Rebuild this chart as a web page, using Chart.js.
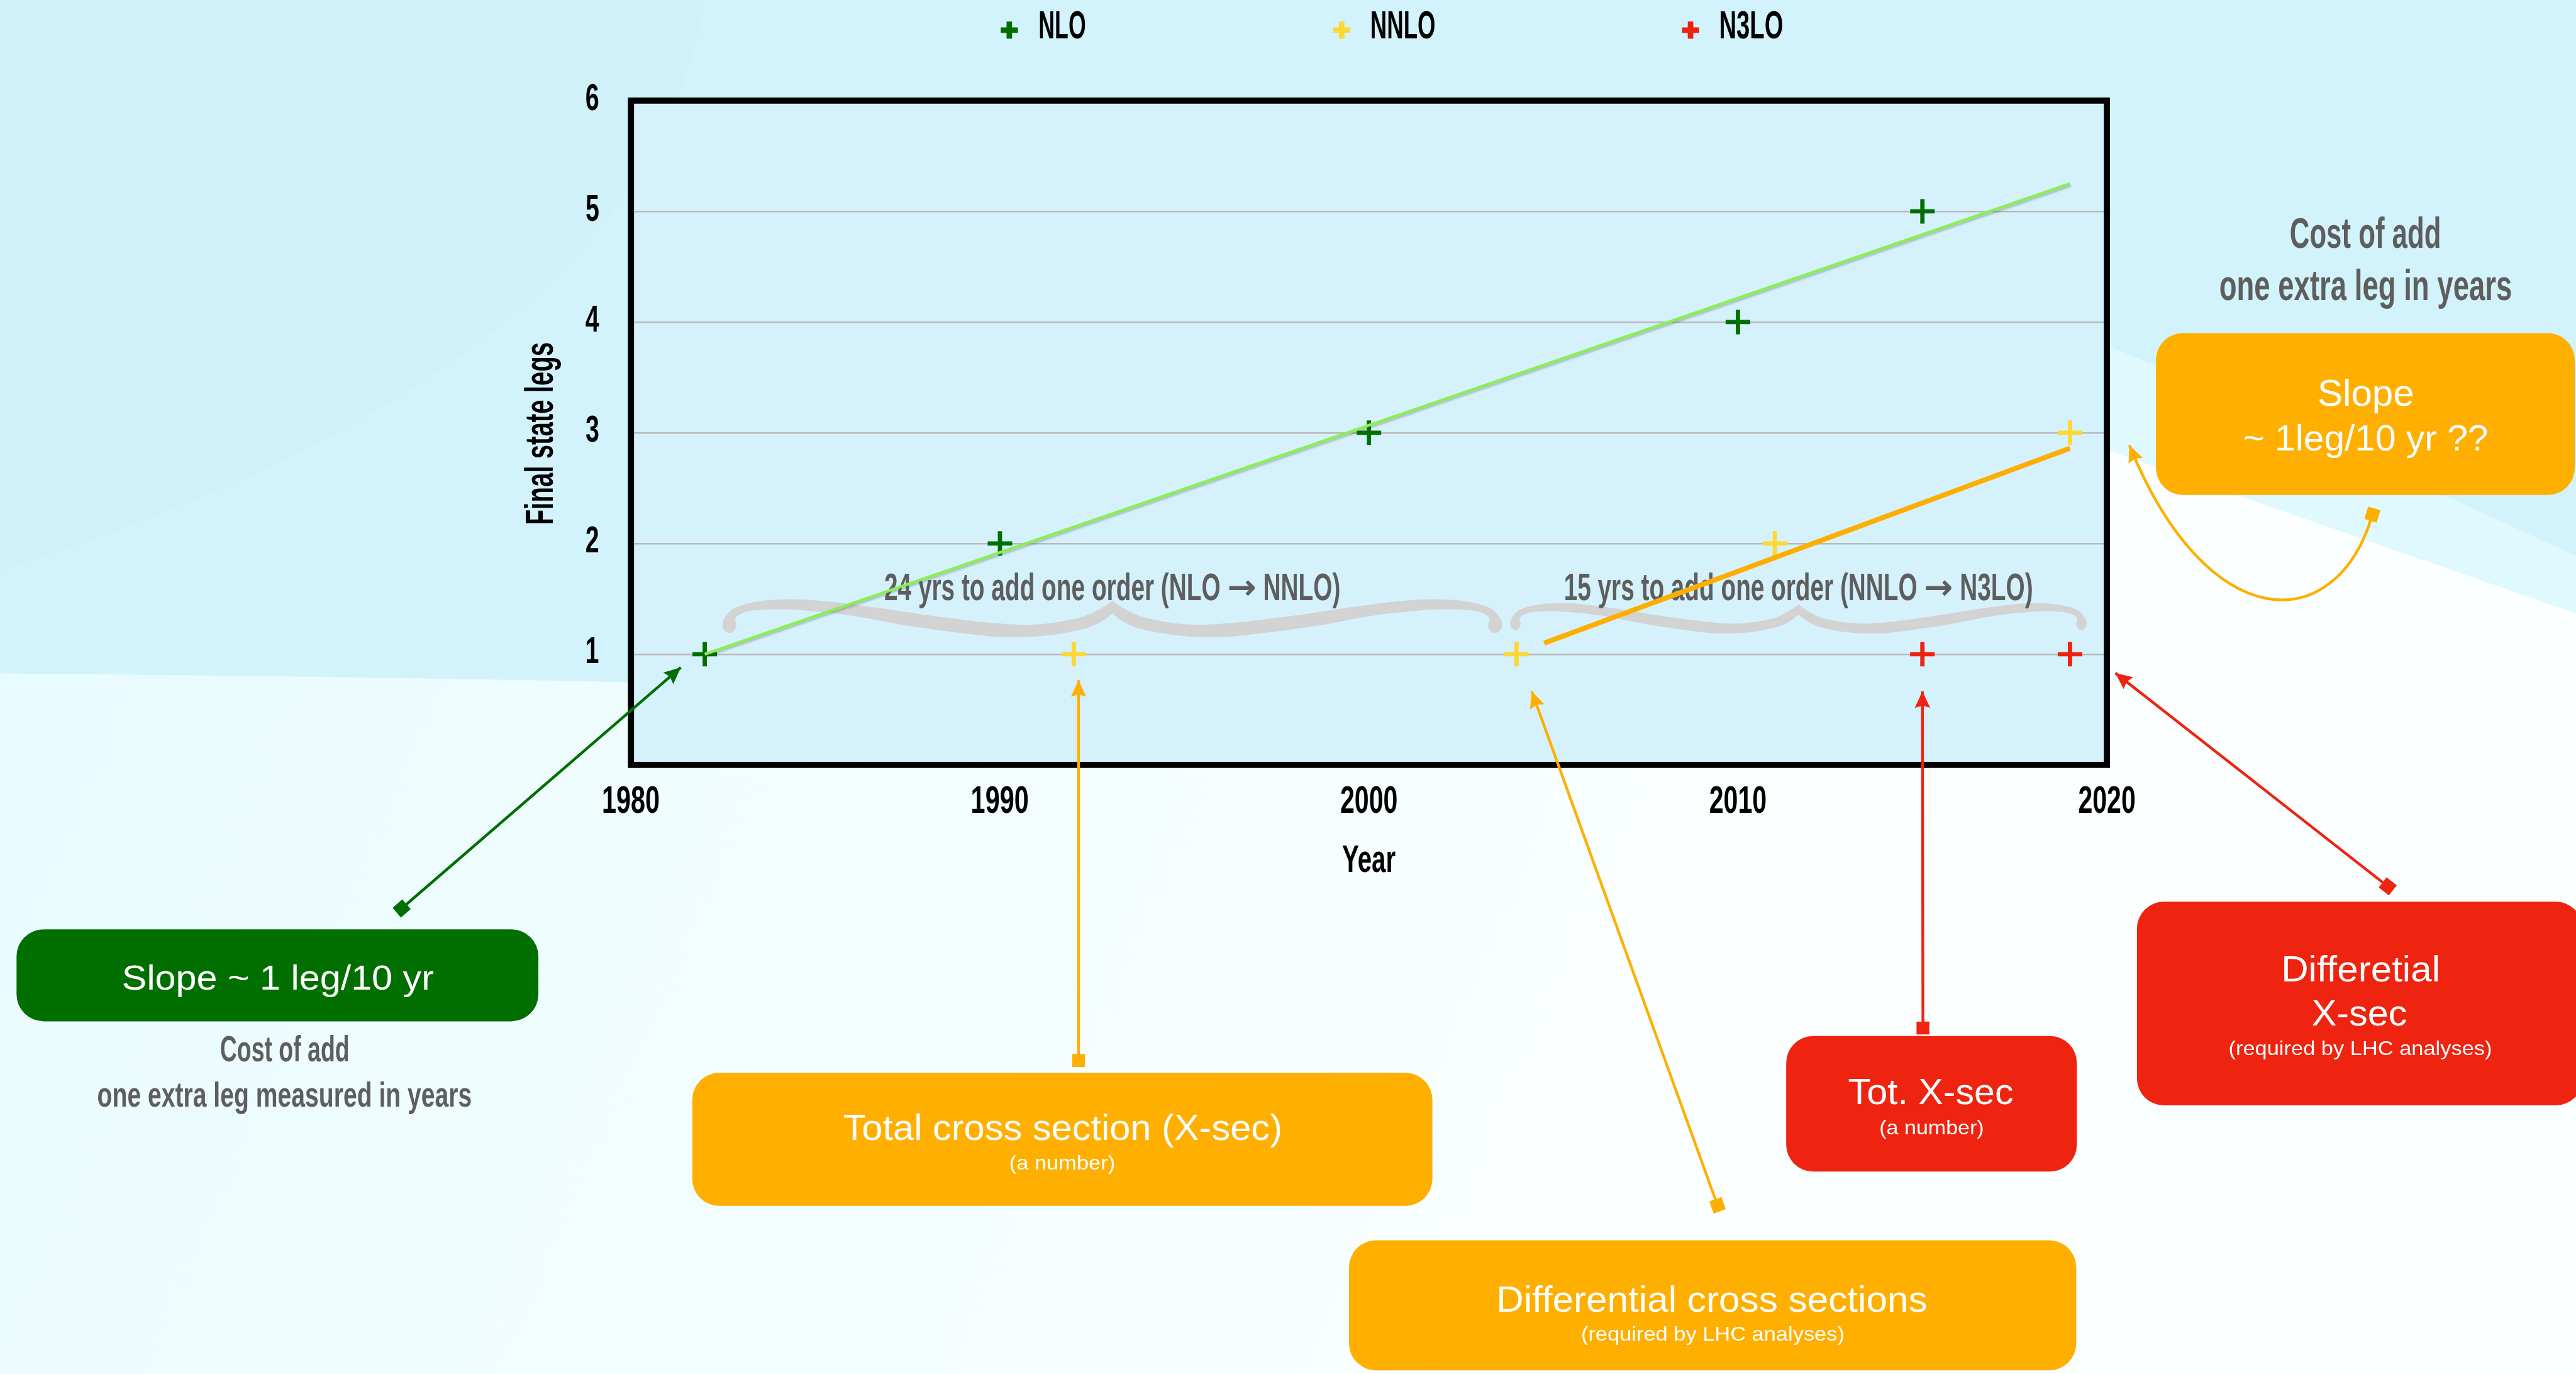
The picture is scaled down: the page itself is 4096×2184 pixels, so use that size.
<!DOCTYPE html>
<html>
<head>
<meta charset="utf-8">
<title>Final state legs vs year</title>
<script src="https://cdn.jsdelivr.net/npm/chart.js@4.4.1/dist/chart.umd.min.js"></script>
<style>
  html, body { margin: 0; padding: 0; overflow: hidden; background: #fff; }
  #wrap { position: relative; width: 4096px; height: 2184px; }
  canvas { display: block; }
</style>
</head>
<body>
<div id="wrap"><canvas id="chart" width="4096" height="2184"></canvas></div>
<script>
// ---- data ----
const seriesNames = ['NLO', 'NNLO', 'N3LO'];
const seriesColors = ['#006f00', '#fdd835', '#ee2211'];

const nloYears  = [1982, 1990, 2000, 2010, 2015];
const nloLegs   = [1, 2, 3, 4, 5];
const nnloYears = [1992, 2004, 2011, 2019];
const nnloLegs  = [1, 1, 2, 3];
const n3loYears = [2015, 2019];
const n3loLegs  = [1, 1];

// straight trend lines (end points)
const nloTrendYears  = [1982, 2019];
const nloTrendLegs   = [1.0, 5.25];
const nnloTrendYears = [2004.75, 2019];
const nnloTrendLegs  = [1.1, 2.86];

const xTickLabels = [1980, 1990, 2000, 2010, 2020];
const yTickLabels = [1, 2, 3, 4, 5, 6];

// ---- layout helpers ----
const S = 0.975;                 // drawing scale
const P = v => v * S;
const W = 4096, H = 2184;
const FONT = "'Liberation Sans', Arial, Helvetica, sans-serif";
const ARROW_FONT = "'DejaVu Sans', sans-serif";
const GREY = '#5e5e5e';
const ORANGE = '#feaf00';
const RED = '#ee2310';
const GREEN = '#006f00';

const toPts = (xs, ys) => xs.map((x, i) => ({ x, y: ys[i] }));

// text drawn with a given cap height, squeezed horizontally to a given ink width;
// a right arrow inside the text is set in a separate font and kept unsqueezed
function label(ctx, str, x, y, o) {
  const size = (o.cap / 0.716) * S;
  const weight = o.bold ? 'bold ' : '';
  const mainFont = weight + size.toFixed(2) + 'px ' + FONT;
  ctx.save();
  ctx.fillStyle = o.color || '#000';
  ctx.textBaseline = 'alphabetic';
  ctx.textAlign = 'left';

  if (str.indexOf('\u2192') >= 0) {
    const arrowFont = weight + (size * 0.9).toFixed(2) + 'px ' + ARROW_FONT;
    const parts = str.split('\u2192');
    const runs = [];
    parts.forEach((p, i) => {
      if (i > 0) runs.push({ t: '\u2192', f: arrowFont, squeeze: false });
      runs.push({ t: p, f: mainFont, squeeze: true });
    });
    let textW = 0, fixedW = 0;
    runs.forEach(r => {
      ctx.font = r.f;
      r.w = ctx.measureText(r.t).width;
      if (r.squeeze) textW += r.w; else fixedW += r.w;
    });
    const sx = (o.w * S - fixedW) / textW;
    const total = textW * sx + fixedW;
    let cur = x - total / 2;
    runs.forEach(r => {
      ctx.save();
      ctx.font = r.f;
      ctx.translate(cur, y);
      if (r.squeeze) ctx.scale(sx, 1);
      ctx.fillText(r.t, 0, r.squeeze ? 0 : -size * 0.02);
      ctx.restore();
      cur += r.squeeze ? r.w * sx : r.w;
    });
    ctx.restore();
    return;
  }

  ctx.font = mainFont;
  const m = ctx.measureText(str);
  const ink = m.actualBoundingBoxLeft + m.actualBoundingBoxRight;
  let sx = 1;
  if (o.w) sx = (o.w * S) / ink;
  else if (o.refText) {
    const r = ctx.measureText(o.refText);
    sx = (o.refW * S) / (r.actualBoundingBoxLeft + r.actualBoundingBoxRight);
  }
  ctx.translate(x, y);
  if (o.rot) ctx.rotate(o.rot);
  ctx.scale(sx, 1);
  let dx;
  if (o.align === 'left') dx = m.actualBoundingBoxLeft;
  else if (o.align === 'right') dx = -m.actualBoundingBoxRight;
  else dx = (m.actualBoundingBoxLeft - m.actualBoundingBoxRight) / 2;
  ctx.fillText(str, dx, 0);
  ctx.restore();
}

function drawCross(ctx, x, y, size, lw, color) {
  ctx.save();
  ctx.strokeStyle = color;
  ctx.lineWidth = lw;
  ctx.beginPath();
  ctx.moveTo(x - size / 2, y); ctx.lineTo(x + size / 2, y);
  ctx.moveTo(x, y - size / 2); ctx.lineTo(x, y + size / 2);
  ctx.stroke();
  ctx.restore();
}

// decorative curly brace, opening downwards, outline of the left half
const braceHalf = [
  [1.0, 0], [0.97, 13], [0.91, 29], [0.805, 39], [0.70, 37], [0.55, 26], [0.40, 12],
  [0.263, 1], [0.173, -2], [0.097, 1], [0.035, 11], [0.008, 26], [0.0, 38], [0.004, 48],
  [0.016, 53], [0.029, 50], [0.036, 41], [0.033, 31], [0.043, 23], [0.083, 16], [0.173, 15],
  [0.324, 24], [0.473, 41], [0.624, 54], [0.729, 60], [0.835, 57], [0.929, 46], [0.975, 33], [1.0, 21]
];
function drawBrace(ctx, xL, xR, yTop, vs) {
  const half = (xR - xL) / 2;
  const mirror = braceHalf.map(([u, v]) => [2 - u, v]).reverse();
  const uv = braceHalf.concat(mirror.slice(1, -1));
  const pts = uv.map(([u, v]) => [xL + u * half, yTop + v * vs * S]);
  const n = pts.length;
  const corner = i => i === 0 || i === braceHalf.length - 1;
  const tan = i => {
    if (corner(i)) return [0, 0];
    const a = pts[(i - 1 + n) % n], b = pts[(i + 1) % n];
    return [(b[0] - a[0]) / 2, (b[1] - a[1]) / 2];
  };
  ctx.save();
  ctx.fillStyle = '#d3d3d3';
  ctx.beginPath();
  ctx.moveTo(pts[0][0], pts[0][1]);
  for (let i = 0; i < n; i++) {
    const p1 = pts[i], p2 = pts[(i + 1) % n];
    const t1 = tan(i), t2 = tan((i + 1) % n);
    ctx.bezierCurveTo(p1[0] + t1[0] / 3, p1[1] + t1[1] / 3, p2[0] - t2[0] / 3, p2[1] - t2[1] / 3, p2[0], p2[1]);
  }
  ctx.closePath();
  ctx.fill();
  ctx.restore();
}

function arrowHead(ctx, tip, from, color) {
  const ang = Math.atan2(tip[1] - from[1], tip[0] - from[0]);
  const len = P(27), hw = P(12.5);
  ctx.save();
  ctx.translate(tip[0], tip[1]);
  ctx.rotate(ang);
  ctx.fillStyle = color;
  ctx.beginPath();
  ctx.moveTo(0, 0);
  ctx.lineTo(-len, -hw);
  ctx.lineTo(-len * 0.86, 0);
  ctx.lineTo(-len, hw);
  ctx.closePath();
  ctx.fill();
  ctx.restore();
}
function squareEnd(ctx, c, from, color) {
  const ang = Math.atan2(c[1] - from[1], c[0] - from[0]);
  const s = P(21);
  ctx.save();
  ctx.translate(c[0], c[1]);
  ctx.rotate(ang);
  ctx.fillStyle = color;
  ctx.fillRect(-s / 2, -s / 2, s, s);
  ctx.restore();
}

// callout boxes (page coordinates before scaling)
const boxes = [
  { x1: 27,   y1: 1515, x2: 878,  y2: 1665, color: GREEN,
    lines: [{ t: 'Slope ~ 1 leg/10 yr', cx: 454, by: 1613, cap: 41, w: 506 }] },
  { x1: 1129, y1: 1749, x2: 2336, y2: 1966, color: ORANGE,
    lines: [{ t: 'Total cross section (X-sec)', cx: 1732, by: 1858, cap: 42, w: 712 },
            { t: '(a number)', cx: 1732, by: 1907, cap: 23, w: 170 }] },
  { x1: 2200, y1: 2022, x2: 3386, y2: 2234, color: ORANGE,
    lines: [{ t: 'Differential cross sections', cx: 2793, by: 2138, cap: 42, w: 697 },
            { t: '(required by LHC analyses)', cx: 2793, by: 2186, cap: 23, w: 427 }] },
  { x1: 2913, y1: 1689, x2: 3387, y2: 1910, color: RED,
    lines: [{ t: 'Tot. X-sec', cx: 3149, by: 1800, cap: 42, w: 268 },
            { t: '(a number)', cx: 3150, by: 1849, cap: 23, w: 168 }] },
  { x1: 3485, y1: 1470, x2: 4212, y2: 1802, color: RED,
    lines: [{ t: 'Differetial', cx: 3850, by: 1600, cap: 42, w: 251 },
            { t: 'X-sec', cx: 3848, by: 1672, cap: 42, w: 154 },
            { t: '(required by LHC analyses)', cx: 3849, by: 1720, cap: 23, w: 427 }] },
  { x1: 3516, y1: 543, x2: 4199, y2: 807, color: ORANGE,
    lines: [{ t: 'Slope', cx: 3858, by: 662, cap: 43, w: 153 },
            { t: '~ 1leg/10 yr ??', cx: 3858, by: 734, cap: 42, w: 396 }] }
];

// grey captions
const captions = [
  { t: 'Cost of add', cx: 464, by: 1730, cap: 42, w: 208 },
  { t: 'one extra leg measured in years', cx: 464, by: 1804, cap: 41, w: 608 },
  { t: 'Cost of add', cx: 3857, by: 404, cap: 50, w: 243 },
  { t: 'one extra leg in years', cx: 3858, by: 489, cap: 50, w: 475 }
];

// connectors: tip in data units, other end in page units
const connectors = [
  { color: GREEN,  tip: [1981.35, 0.88],  end: [655, 1481] },
  { color: ORANGE, tip: [1992.13, 0.765], end: [1759, 1729] },
  { color: ORANGE, tip: [2004.41, 0.665], end: [2801, 1965] },
  { color: RED,    tip: [2015.0, 0.665],  end: [3136, 1676] },
  { color: RED,    tip: [2020.23, 0.83],  end: [3894, 1445] },
  { color: ORANGE, tip: [2020.61, 2.886], end: [3869, 839], ctrl: [[3600, 1040], [3810, 1040]] }
];

// bracket annotations (years spanned, top in legs)
const spans = [
  { from: 1982.48, to: 2003.61, top: 1.485, vs: 1.0,  text: '24 yrs to add one order (NLO \u2192 NNLO)', w: 744 },
  { from: 2003.83, to: 2019.45, top: 1.452, vs: 0.8,  text: '15 yrs to add one order (NNLO \u2192 N3LO)', w: 765 }
];

// ---- plugins ----
const backdrop = {
  id: 'backdrop',
  beforeDraw(chart) {
    const ctx = chart.ctx;
    ctx.save();
    const g = ctx.createLinearGradient(0, P(1100), P(2600), H);
    g.addColorStop(0, '#e8fbfe');
    g.addColorStop(1, '#fcffff');
    ctx.fillStyle = g;
    ctx.fillRect(0, 0, W, H);

    // upper light-blue wash
    ctx.fillStyle = '#d3f3fc';
    ctx.beginPath();
    ctx.moveTo(0, 0); ctx.lineTo(W, 0); ctx.lineTo(W, P(907));
    ctx.quadraticCurveTo(P(3800), P(720), P(3441), P(565));
    ctx.lineTo(P(3441), P(1100));
    ctx.quadraticCurveTo(P(2000), P(1125), P(1030), P(1112));
    ctx.quadraticCurveTo(P(500), P(1102), 0, P(1098));
    ctx.closePath();
    ctx.fill();

    // lighter band on the right
    ctx.fillStyle = '#dff9fe';
    ctx.beginPath();
    ctx.moveTo(P(3441), P(565));
    ctx.quadraticCurveTo(P(3800), P(720), W, P(907));
    ctx.lineTo(W, P(1000));
    ctx.quadraticCurveTo(P(3800), P(860), P(3441), P(735));
    ctx.closePath();
    ctx.fill();

    // faint darker swoosh, top left
    ctx.fillStyle = '#d0f0fa';
    ctx.beginPath();
    ctx.moveTo(0, 0); ctx.lineTo(P(1150), 0);
    ctx.quadraticCurveTo(P(1050), P(600), 0, P(930));
    ctx.closePath();
    ctx.fill();

    // plot panel
    const a = chart.chartArea;
    ctx.fillStyle = '#d5f2fc';
    ctx.fillRect(a.left, a.top, a.right - a.left, a.bottom - a.top);
    ctx.restore();
  },
  beforeDatasetsDraw(chart) {
    const ctx = chart.ctx, xs = chart.scales.x, ys = chart.scales.y, a = chart.chartArea;
    // brackets and their captions
    spans.forEach(s => {
      const xL = xs.getPixelForValue(s.from), xR = xs.getPixelForValue(s.to);
      const yT = ys.getPixelForValue(s.top);
      drawBrace(ctx, xL, xR, yT, s.vs);
      label(ctx, s.text, (xL + xR) / 2, ys.getPixelForValue(1.49), { cap: 45, w: s.w, bold: true, color: GREY });
    });
    // frame
    ctx.save();
    ctx.strokeStyle = '#000';
    ctx.lineWidth = P(10);
    ctx.strokeRect(a.left, a.top, a.right - a.left, a.bottom - a.top);
    ctx.restore();
  },
  beforeDatasetDraw(chart, args) {
    if (args.index === 0) {
      const ctx = chart.ctx;
      ctx.save();
      ctx.shadowColor = 'rgba(70,70,70,0.3)';
      ctx.shadowOffsetX = P(1.5);
      ctx.shadowOffsetY = P(3);
      ctx.shadowBlur = P(3);
    }
  },
  afterDatasetDraw(chart, args) {
    if (args.index === 0) chart.ctx.restore();
  },
  afterDraw(chart) {
    const ctx = chart.ctx, xs = chart.scales.x, ys = chart.scales.y, a = chart.chartArea;

    // tick labels
    yTickLabels.forEach(v => {
      label(ctx, String(v), P(966), ys.getPixelForValue(v) + P(15), { cap: 43, bold: true, refText: '6', refW: 20 });
    });
    xTickLabels.forEach(v => {
      label(ctx, String(v), xs.getPixelForValue(v), a.bottom + P(78), { cap: 45, bold: true, w: 91 });
    });
    // axis titles
    label(ctx, 'Year', (a.left + a.right) / 2, a.bottom + P(175), { cap: 45, bold: true, w: 86 });
    label(ctx, 'Final state legs', P(902), P(706), { cap: 46, bold: true, w: 294, rot: -Math.PI / 2 });

    // legend
    const legX = [1646, 2188, 2757], legT = [1696, 2237, 2806], legW = [74, 103, 101];
    chart.data.datasets.forEach(ds => {
      const k = seriesNames.indexOf(ds.label);
      if (k < 0) return;
      drawCross(ctx, P(legX[k]), P(49), P(28), P(9), ds.borderColor);
      label(ctx, ds.label, P(legT[k]), P(63), { cap: 46, bold: true, w: legW[k], align: 'left' });
    });

    // callout boxes
    boxes.forEach(b => {
      ctx.save();
      ctx.fillStyle = b.color;
      ctx.beginPath();
      ctx.roundRect(P(b.x1), P(b.y1), P(b.x2 - b.x1), P(b.y2 - b.y1), P(44));
      ctx.fill();
      ctx.restore();
      b.lines.forEach(l => label(ctx, l.t, P(l.cx), P(l.by), { cap: l.cap, w: l.w, color: '#fff' }));
    });
    captions.forEach(c => label(ctx, c.t, P(c.cx), P(c.by), { cap: c.cap, w: c.w, bold: true, color: GREY }));

    // connectors
    connectors.forEach(c => {
      const tip = [xs.getPixelForValue(c.tip[0]), ys.getPixelForValue(c.tip[1])];
      const end = [P(c.end[0]), P(c.end[1])];
      ctx.save();
      ctx.strokeStyle = c.color;
      ctx.lineWidth = P(4.5);
      ctx.beginPath();
      ctx.moveTo(tip[0], tip[1]);
      let nearTip = end, nearEnd = tip;
      if (c.ctrl) {
        const c1 = [P(c.ctrl[0][0]), P(c.ctrl[0][1])], c2 = [P(c.ctrl[1][0]), P(c.ctrl[1][1])];
        ctx.bezierCurveTo(c1[0], c1[1], c2[0], c2[1], end[0], end[1]);
        nearTip = c1; nearEnd = c2;
      } else {
        ctx.lineTo(end[0], end[1]);
      }
      ctx.stroke();
      ctx.restore();
      arrowHead(ctx, tip, nearTip, c.color);
      squareEnd(ctx, end, nearEnd, c.color);
    });
  }
};

// ---- chart ----
const chartArea = { left: P(1029), top: P(164), right: P(3436), bottom: P(1247) };

new Chart(document.getElementById('chart'), {
  type: 'scatter',
  data: {
    datasets: [
      { label: 'NLO trend', data: toPts(nloTrendYears, nloTrendLegs), showLine: true,
        borderColor: '#8af052', borderWidth: P(4.5), pointRadius: 0, order: 0 },
      { label: 'NNLO trend', data: toPts(nnloTrendYears, nnloTrendLegs), showLine: true,
        borderColor: '#feae00', borderWidth: P(8), pointRadius: 0, order: 0 },
      { label: seriesNames[0], data: toPts(nloYears, nloLegs), pointStyle: 'cross',
        pointRadius: P(20), borderColor: seriesColors[0], borderWidth: P(7), order: 1 },
      { label: seriesNames[1], data: toPts(nnloYears, nnloLegs), pointStyle: 'cross',
        pointRadius: P(20), borderColor: seriesColors[1], borderWidth: P(7), order: 1 },
      { label: seriesNames[2], data: toPts(n3loYears, n3loLegs), pointStyle: 'cross',
        pointRadius: P(20), borderColor: seriesColors[2], borderWidth: P(7), order: 1 }
    ]
  },
  options: {
    responsive: false,
    animation: false,
    devicePixelRatio: 1,
    events: [],
    layout: {
      padding: { left: chartArea.left, top: chartArea.top, right: W - chartArea.right, bottom: H - chartArea.bottom }
    },
    plugins: { legend: { display: false }, tooltip: { enabled: false } },
    scales: {
      x: {
        type: 'linear', min: 1980, max: 2020,
        ticks: { display: false, stepSize: 10 },
        grid: { display: false, drawTicks: false },
        border: { display: false }
      },
      y: {
        type: 'linear', min: 0, max: 6,
        ticks: { display: false, stepSize: 1 },
        grid: { color: '#b9b9b9', lineWidth: P(2.5), drawTicks: false },
        border: { display: false }
      }
    }
  },
  plugins: [backdrop]
});
</script>
</body>
</html>
